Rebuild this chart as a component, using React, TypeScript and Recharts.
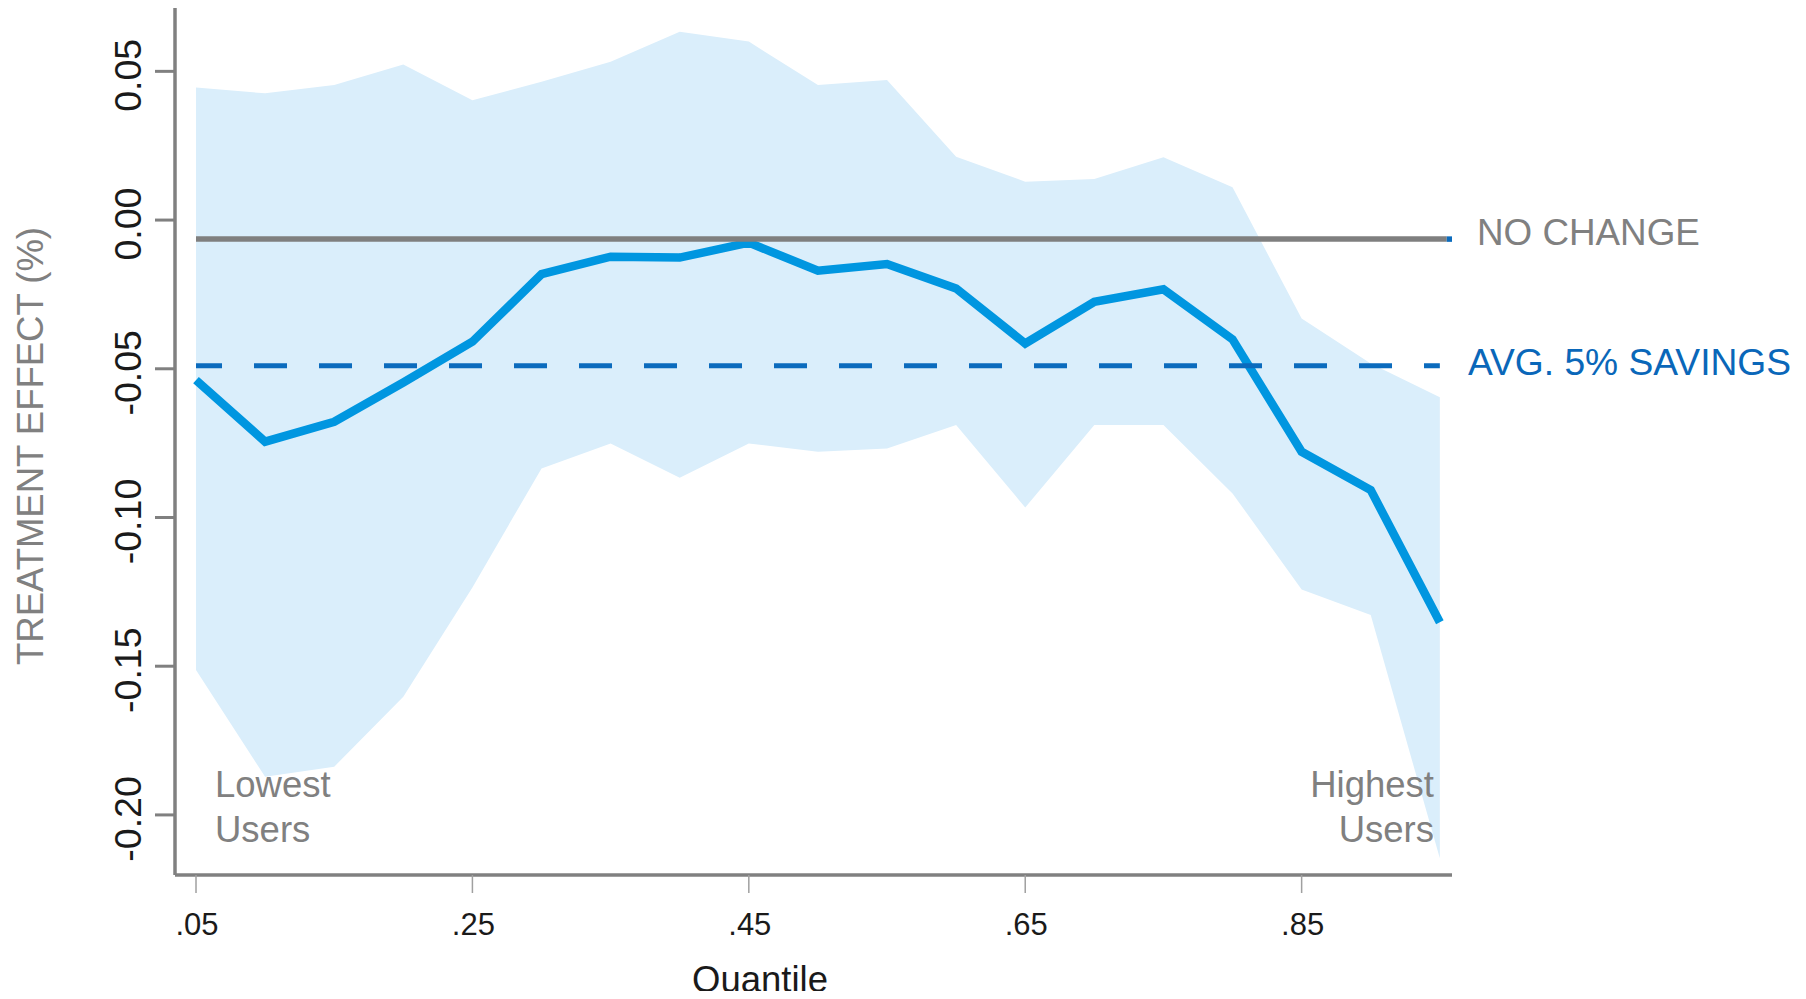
import React from "react";
import { ComposedChart, Area, Line, XAxis, YAxis } from "recharts";

// ---- data ----
const quantiles = [0.05, 0.1, 0.15, 0.2, 0.25, 0.3, 0.35, 0.4, 0.45, 0.5, 0.55, 0.6, 0.65, 0.7, 0.75, 0.8, 0.85, 0.9, 0.95];
const effect = [-0.0538, -0.0745, -0.0678, -0.0546, -0.0409, -0.0182, -0.0123, -0.0126, -0.0076, -0.017, -0.0148, -0.023, -0.0415, -0.0275, -0.0233, -0.0401, -0.0779, -0.0908, -0.1352];
const upperCI = [0.0446, 0.0426, 0.0454, 0.0523, 0.0403, 0.0465, 0.0532, 0.0633, 0.06, 0.0454, 0.0471, 0.0213, 0.0129, 0.0138, 0.0211, 0.011, -0.0331, -0.0482, -0.0596];
const lowerCI = [-0.1513, -0.1872, -0.1838, -0.1603, -0.1235, -0.0835, -0.0751, -0.0866, -0.0751, -0.0779, -0.0768, -0.0689, -0.0966, -0.0689, -0.0689, -0.0919, -0.1242, -0.1328, -0.2146];
const xTicks = [0.05, 0.25, 0.45, 0.65, 0.85];
const yTicks = [-0.2, -0.15, -0.1, -0.05, 0, 0.05];
const noChangeLevel = -0.0064;
const avgSavingsLevel = -0.049;
const xDomain = [0.0348, 0.9588];
const yDomain = [-0.2202, 0.0713];
const noChangeRange = [0.05, 0.955];
const noChangeCapRange = [0.955, 0.9588];
const avgRange = [0.05, 0.95];

const data = quantiles.map((q, i) => ({ q, effect: effect[i], band: [lowerCI[i], upperCI[i]] }));
const noChangeData = noChangeRange.map((q) => ({ q, v: noChangeLevel }));
const noChangeCapData = noChangeCapRange.map((q) => ({ q, v: noChangeLevel }));
const avgData = avgRange.map((q) => ({ q, v: avgSavingsLevel }));

const FONT = '"Liberation Sans", Arial, Helvetica, sans-serif';
const W = 1790;
const H = 983;

const YTick = (props: any) => {
  const { y, payload } = props;
  const px = 133;
  const py = y + 4;
  return (
    <text
      x={px}
      y={py}
      transform={`rotate(-90 ${px} ${py})`}
      textAnchor="middle"
      fontFamily={FONT}
      fontSize={37.5}
      fill="#1a1a1a"
    >
      {Number(payload.value).toFixed(2)}
    </text>
  );
};

const XTick = (props: any) => {
  const { x, payload } = props;
  return (
    <text x={x + 1} y={927} textAnchor="middle" fontFamily={FONT} fontSize={31} fill="#1a1a1a">
      {Number(payload.value).toFixed(2).replace(/^0/, "")}
    </text>
  );
};

export default function App() {
  return (
    <div style={{ position: "relative", width: W, height: H }}>
      <ComposedChart width={W} height={H} data={data} margin={{ top: 0, right: 346, bottom: 0, left: 0 }}>
        <XAxis
          dataKey="q"
          type="number"
          domain={xDomain}
          allowDataOverflow
          ticks={xTicks}
          height={116}
          tickSize={18}
          axisLine={{ stroke: "#808080", strokeWidth: 3.5 }}
          tickLine={{ stroke: "#a0a0a0", strokeWidth: 1.5 }}
          tick={XTick}
        />
        <YAxis
          type="number"
          domain={yDomain}
          allowDataOverflow
          ticks={yTicks}
          width={167}
          tickSize={20}
          axisLine={{ stroke: "#808080", strokeWidth: 3.5 }}
          tickLine={{ stroke: "#808080", strokeWidth: 3 }}
          tick={YTick}
        />
        <Area
          dataKey="band"
          type="linear"
          stroke="none"
          fill="#daeefb"
          fillOpacity={1}
          isAnimationActive={false}
          activeDot={false}
        />
        <Line
          dataKey="effect"
          type="linear"
          stroke="#0096e0"
          strokeWidth={8.5}
          dot={false}
          activeDot={false}
          isAnimationActive={false}
        />
        <Line
          data={noChangeData}
          dataKey="v"
          type="linear"
          stroke="#7f7f7f"
          strokeWidth={5.5}
          dot={false}
          activeDot={false}
          isAnimationActive={false}
        />
        <Line
          data={noChangeCapData}
          dataKey="v"
          type="linear"
          stroke="#0b6bbd"
          strokeWidth={5.5}
          dot={false}
          activeDot={false}
          isAnimationActive={false}
        />
        <Line
          data={avgData}
          dataKey="v"
          type="linear"
          stroke="#0b6bbd"
          strokeWidth={5}
          strokeDasharray="33 32"
          strokeDashoffset={7}
          dot={false}
          activeDot={false}
          isAnimationActive={false}
        />
      </ComposedChart>
      <svg
        width={W}
        height={991}
        style={{ position: "absolute", left: 0, top: 0, pointerEvents: "none" }}
        fontFamily={FONT}
      >
        <text x={35} y={438} transform="rotate(-90 35 438)" textAnchor="middle" fontSize={36.5} fill="#808080">
          TREATMENT EFFECT (%)
        </text>
        <text x={752} y={984} textAnchor="middle" fontSize={36.5} fill="#1a1a1a">
          Quantile
        </text>
        <text x={1469} y={237} fontSize={36.8} fill="#808080">
          NO CHANGE
        </text>
        <text x={1460} y={367} fontSize={37.2} fill="#0a67b9">
          AVG. 5% SAVINGS
        </text>
        <text x={207} y={789} fontSize={36.5} fill="#808080">
          Lowest
        </text>
        <text x={207} y={834} fontSize={36.5} fill="#808080">
          Users
        </text>
        <text x={1426} y={789} textAnchor="end" fontSize={36.5} fill="#808080">
          Highest
        </text>
        <text x={1426} y={834} textAnchor="end" fontSize={36.5} fill="#808080">
          Users
        </text>
      </svg>
    </div>
  );
}
